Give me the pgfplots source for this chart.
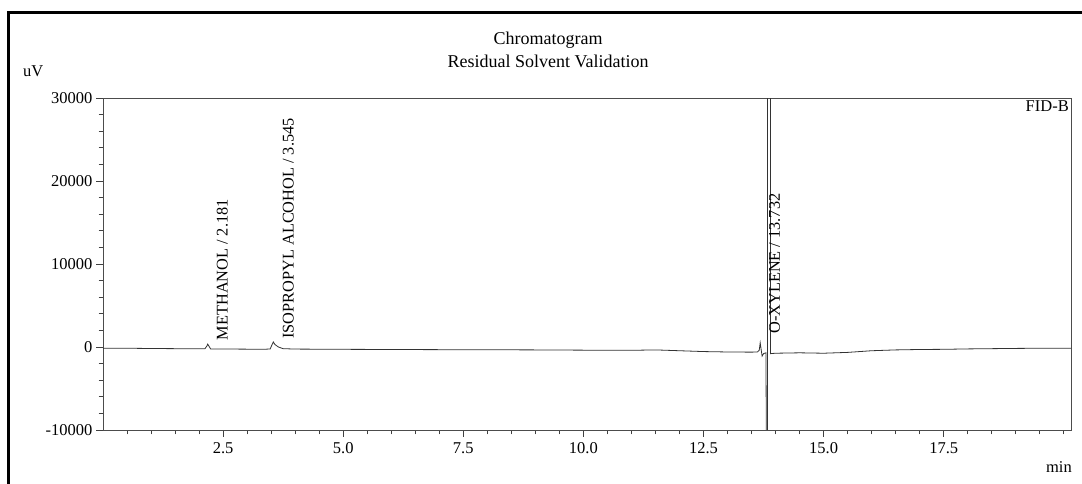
\documentclass[border=0pt]{standalone}
\usepackage{pgfplots}
\pgfplotsset{compat=1.18}
\usepackage{fontspec}
\setmainfont{Liberation Serif}
\begin{document}
\begin{tikzpicture}
\useasboundingbox (0,0) rectangle (1082pt,483pt);
% outer frame (cropped at right and bottom)
\draw[line width=3pt, black] (8pt,-2pt) -- (8pt,470pt) -- (1090pt,470pt);
% titles
\node[anchor=base, inner sep=0, font=\fontsize{18}{20}\selectfont] at (548pt,438pt) {Chromatogram};
\node[anchor=base, inner sep=0, font=\fontsize{18}{20}\selectfont] at (548pt,415pt) {Residual Solvent Validation};
\node[anchor=base west, inner sep=0, font=\fontsize{16.5}{18}\selectfont] at (23pt,406pt) {uV};
\node[anchor=base east, inner sep=0, font=\fontsize{16.5}{18}\selectfont] at (1072pt,11pt) {min};
\node[anchor=north east, inner sep=0, font=\fontsize{16.5}{18}\selectfont] at (1069pt,383pt) {FID-B};
\begin{axis}[
  at={(103pt,53pt)}, anchor=south west,
  scale only axis, width=968pt, height=332pt,
  xmin=0, xmax=20.15, ymin=-10000, ymax=30000,
  scaled y ticks=false, scaled x ticks=false,
  xtick={2.5,5,7.5,10,12.5,15,17.5},
  xticklabels={2.5,5.0,7.5,10.0,12.5,15.0,17.5},
  minor xtick={0.5,1,...,20},
  ytick={-10000,0,10000,20000,30000},
  yticklabels={-10000,0,10000,20000,30000},
  minor ytick={-8000,-6000,...,28000},
  tick align=outside,
  xtick pos=bottom, ytick pos=left,
  major tick length=7pt, minor tick length=4.5pt,
  tick style={black!75, line width=0.7pt},
  axis line style={black!70, line width=0.8pt},
  ticklabel style={font=\fontsize{16.5}{18}\selectfont},
  xticklabel style={yshift=-2pt},
  clip=true,
]
\addplot[black!80, line width=0.8pt] coordinates {
(0.0,-150) (0.5,-150) (1.0,-180) (1.5,-200) (2.0,-220) (2.12,-220) (2.16,100) (2.18,350) (2.20,150) (2.24,-230)
(2.5,-240) (3.0,-260) (3.4,-260) (3.48,-240) (3.52,300) (3.545,600) (3.58,300) (3.65,0) (3.75,-200) (4.0,-250)
(5.0,-280) (6.0,-300) (7.0,-320) (8.0,-330) (9.0,-350) (10.0,-380) (11.0,-400) (11.5,-350) (12.0,-450) (12.5,-550)
(13.0,-600) (13.5,-620) (13.62,-600) (13.66,-400) (13.68,500) (13.70,-300) (13.72,-1100) (13.75,-800) (13.80,-700)
(13.83,-40000) (13.835,200000) (13.885,200000) (13.895,-800) (14.0,-750) (14.5,-700) (15.0,-750) (15.5,-650)
(16.0,-450) (16.5,-350) (17.0,-300) (17.5,-280) (18.0,-230) (18.5,-200) (19.0,-170) (19.5,-150) (20.15,-150)
};
\node[rotate=90, anchor=west, inner sep=0, font=\fontsize{16.3}{18}\selectfont] at (axis cs:2.485,800) {METHANOL / 2.181};
\node[rotate=90, anchor=west, inner sep=0, font=\fontsize{16.3}{18}\selectfont] at (axis cs:3.86,1000) {ISOPROPYL ALCOHOL / 3.545};
\node[rotate=90, anchor=west, inner sep=0, font=\fontsize{16.3}{18}\selectfont] at (axis cs:13.98,1600) {O-XYLENE / 13.732};
\end{axis}
\end{tikzpicture}
\end{document}
